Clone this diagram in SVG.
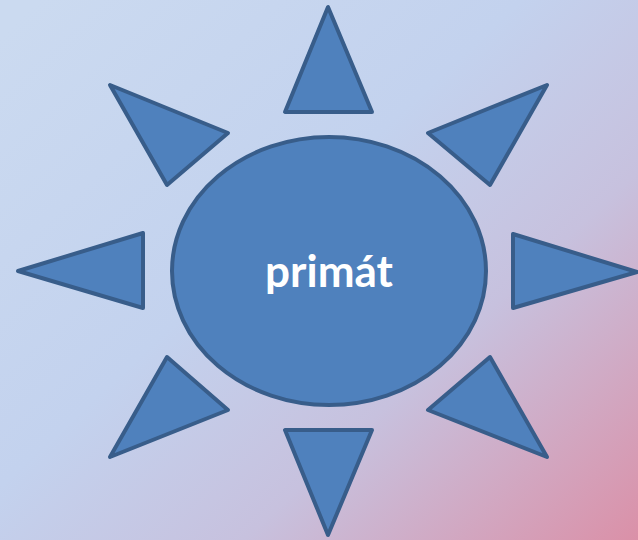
<svg xmlns="http://www.w3.org/2000/svg" width="638" height="540" viewBox="0 0 638 540">
  <defs>
    <linearGradient id="bg" x1="40" y1="0" x2="600" y2="600" gradientUnits="userSpaceOnUse">
      <stop offset="0" stop-color="#cbdaf0"/>
      <stop offset="0.4" stop-color="#c3d2ee"/>
      <stop offset="0.65" stop-color="#c7c1de"/>
      <stop offset="1" stop-color="#dc8da4"/>
    </linearGradient>
    <style>
      .shape { fill: #4f81bd; stroke: #385d8a; stroke-width: 4; stroke-linejoin: round; }
      .label { fill: #ffffff; font-family: Lato, "Open Sans", "Liberation Sans", sans-serif; font-weight: bold; font-size: 44px; }
    </style>
  </defs>
  <rect x="0" y="0" width="638" height="540" fill="url(#bg)"/>
  <g id="connectors"/>
  <g id="ray-top"><polygon class="shape" points="328,7 285,112 372,112"/></g>
  <g id="ray-topright"><polygon class="shape" points="547,85 428,133 490,185"/></g>
  <g id="ray-right"><polygon class="shape" points="513,234 513,308 637,272"/></g>
  <g id="ray-bottomright"><polygon class="shape" points="490,357 428,410 547,457"/></g>
  <g id="ray-bottom"><polygon class="shape" points="285,430 372,430 328,535"/></g>
  <g id="ray-bottomleft"><polygon class="shape" points="167,357 228,410 110,457"/></g>
  <g id="ray-left"><polygon class="shape" points="18,271 143,233 143,308"/></g>
  <g id="ray-topleft"><polygon class="shape" points="110,85 228,133 167,185"/></g>
  <g id="center">
    <ellipse class="shape" cx="329" cy="271" rx="157" ry="134"/>
    <text class="label" x="329" y="287" text-anchor="middle">primát</text>
  </g>
</svg>
